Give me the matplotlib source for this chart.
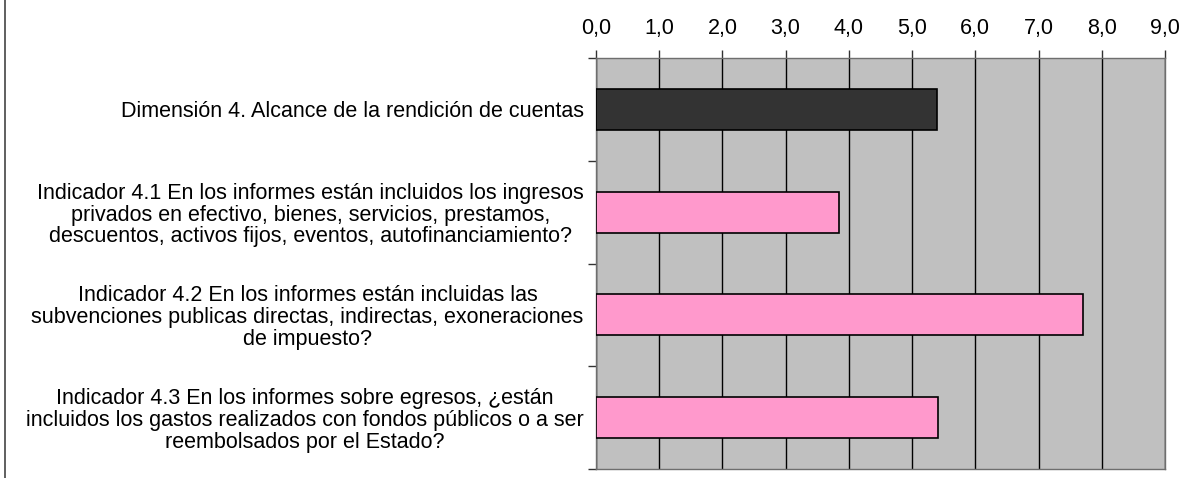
import numpy as np
import matplotlib.pyplot as plt
from matplotlib.lines import Line2D

plt.rcParams['font.family'] = ['Liberation Sans', 'DejaVu Sans']

# data
labels = [
    'Dimensión 4. Alcance de la rendición de cuentas',
    'Indicador 4.1 En los informes están incluidos los ingresos\n'
    'privados en efectivo, bienes, servicios, prestamos,\n'
    'descuentos, activos fijos, eventos, autofinanciamiento?',
    'Indicador 4.2 En los informes están incluidas las\n'
    'subvenciones publicas directas, indirectas, exoneraciones\n'
    'de impuesto?',
    'Indicador 4.3 En los informes sobre egresos, ¿están\n'
    'incluidos los gastos realizados con fondos públicos o a ser\n'
    'reembolsados por el Estado?',
]
values = [5.39, 3.85, 7.71, 5.41]
colors = ['#333333', '#FF99CC', '#FF99CC', '#FF99CC']
xticks = np.arange(0, 10, 1)

fig = plt.figure(figsize=(11.85, 4.78), dpi=100)
ax = fig.add_axes([596 / 1185, 1 - 469 / 478, 569 / 1185, 411 / 478])

ypos = np.arange(len(values))
ax.barh(ypos, values, height=0.4, color=colors, edgecolor='black',
        linewidth=1.2, zorder=3)

ax.set_facecolor('#C0C0C0')
ax.set_xlim(0, 9)
ax.set_ylim(len(values) - 0.5, -0.5)

# x axis on top, comma decimals
ax.xaxis.tick_top()
ax.set_xticks(xticks)
ax.set_xticklabels([('%.1f' % t).replace('.', ',') for t in xticks])
ax.tick_params(axis='x', direction='out', length=6, width=1, pad=8,
               labelsize=15.5, colors='#333333', labelcolor='black')
ax.grid(axis='x', color='black', linewidth=1, zorder=1)

# category labels and boundary ticks
ax.set_yticks(ypos)
ax.set_yticklabels(labels, multialignment='center', linespacing=1.05)
ax.tick_params(axis='y', which='major', length=0, pad=9, labelsize=15.5)
ax.set_yticks(np.arange(-0.5, len(values), 1), minor=True)
ax.tick_params(axis='y', which='minor', direction='out', length=6,
               width=1, color='#333333')

for s in ax.spines.values():
    s.set_color('#6e6e6e')
    s.set_linewidth(1)

# chart border on the left
fig.add_artist(Line2D([5 / 1185, 5 / 1185], [0, 1], color='#444444',
                      linewidth=1.2, transform=fig.transFigure))

fig.savefig('out.png', dpi=100)
